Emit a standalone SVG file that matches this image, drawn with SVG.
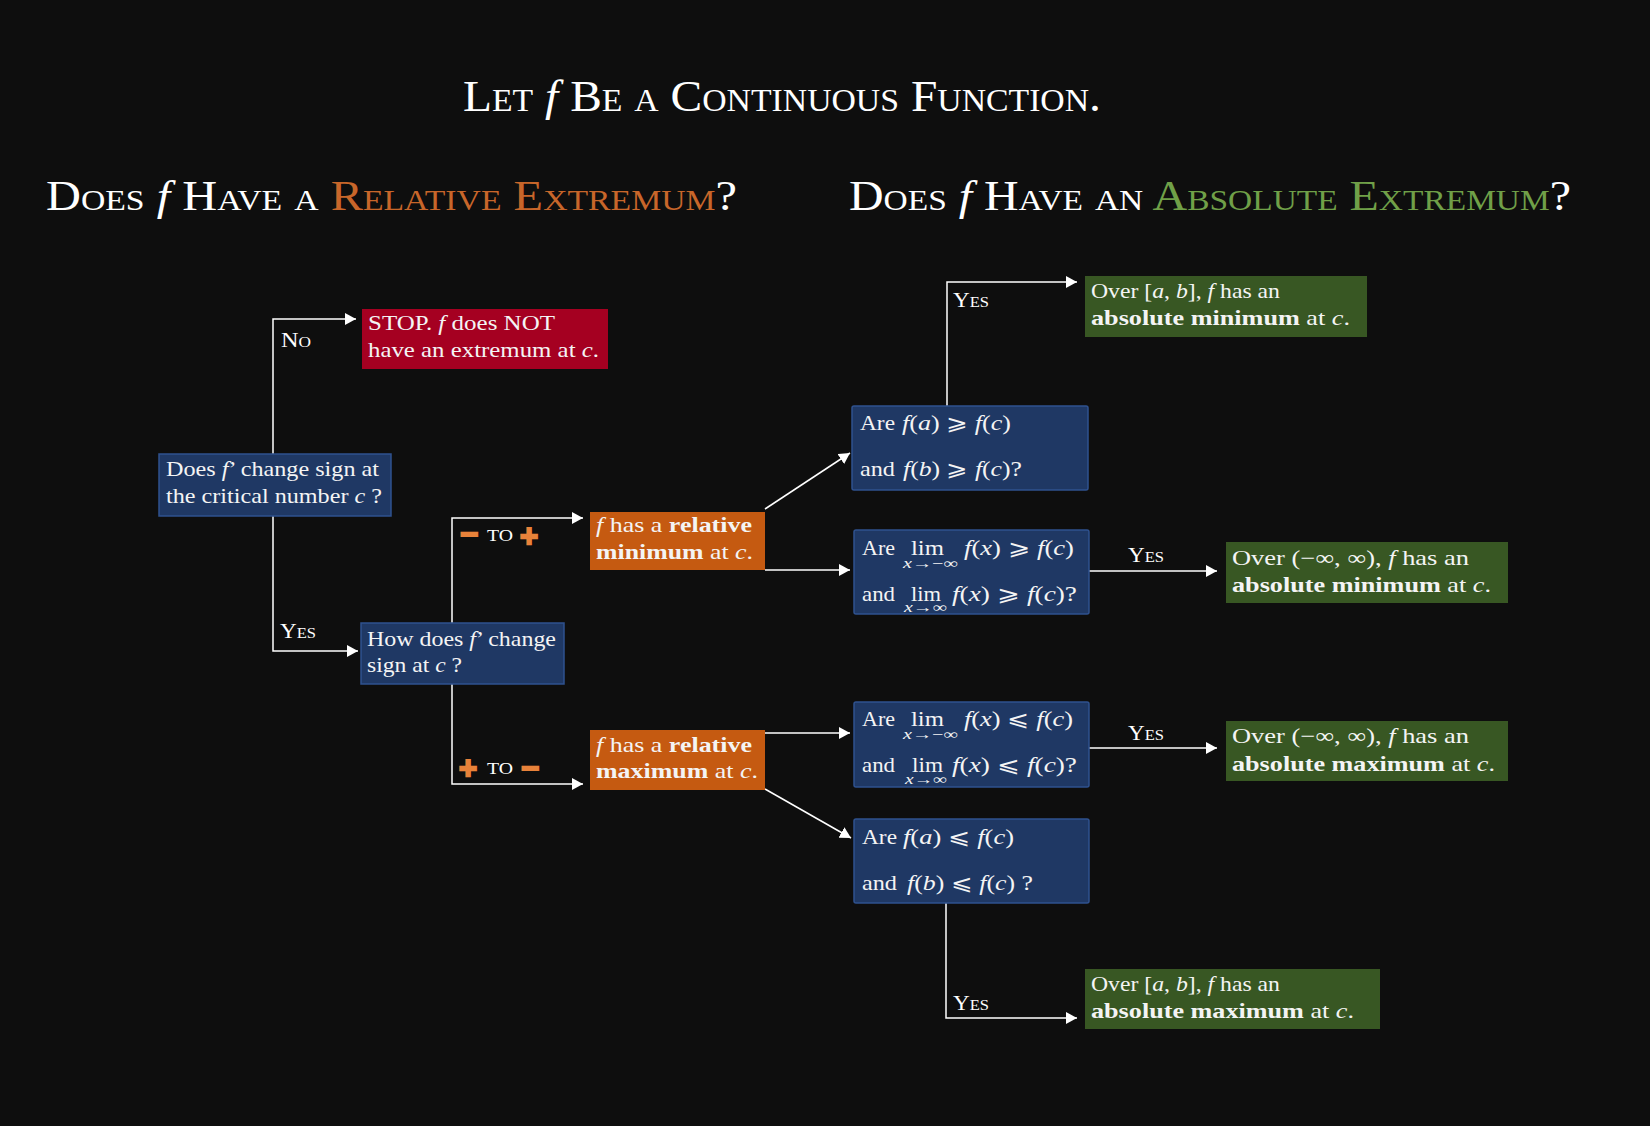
<svg xmlns="http://www.w3.org/2000/svg" width="1650" height="1126" viewBox="0 0 1650 1126">
<defs>
<style>
.t{font-family:"Liberation Serif","DejaVu Serif",serif;fill:#f4f4f4;font-size:21px}
.i{font-style:italic}
.b{font-weight:bold}
.h{font-family:"Liberation Serif","DejaVu Serif",serif;fill:#ffffff;font-variant:small-caps}
.lbl{font-family:"Liberation Serif","DejaVu Serif",serif;fill:#ffffff;font-size:21px;font-variant:small-caps}
.sub{font-size:14px}
.sym{font-family:"DejaVu Sans",sans-serif;font-weight:bold;font-size:24px;fill:#e8823a;stroke:#e8823a;stroke-width:2.6;text-anchor:middle}
.to{font-family:"Liberation Serif",serif;font-size:16px;fill:#ffffff}
.conn{stroke:#ffffff;stroke-width:1.5;fill:none}
.blue{fill:#1f3864;stroke:#2f528f;stroke-width:1.5}
.orange{fill:#c55a11}
.red{fill:#a50021}
.green{fill:#385723}
</style>
<marker id="ah" viewBox="0 0 11 12" refX="11" refY="6" markerWidth="11" markerHeight="12" markerUnits="userSpaceOnUse" orient="auto">
<path d="M0,0 L11,6 L0,12 z" fill="#ffffff"/>
</marker>
</defs>
<rect x="0" y="0" width="1650" height="1126" fill="#0e0e0e"/>

<g id="titles">
<text class="h" x="463" y="111" font-size="45" textLength="638" lengthAdjust="spacingAndGlyphs">Let <tspan class="i" font-variant="normal">f</tspan> Be a Continuous Function.</text>
<text class="h" x="46" y="210" font-size="43" textLength="691" lengthAdjust="spacingAndGlyphs">Does <tspan class="i" font-variant="normal">f</tspan> Have a <tspan fill="#c8662a">Relative Extremum</tspan>?</text>
<text class="h" x="849" y="210" font-size="43" textLength="722" lengthAdjust="spacingAndGlyphs">Does <tspan class="i" font-variant="normal">f</tspan> Have an <tspan fill="#70a048">Absolute Extremum</tspan>?</text>
</g>

<g id="connectors">
<polyline class="conn" points="273,454 273,319 356,319" marker-end="url(#ah)"/>
<polyline class="conn" points="273,516 273,651 358,651" marker-end="url(#ah)"/>
<polyline class="conn" points="452,623 452,518 583,518" marker-end="url(#ah)"/>
<polyline class="conn" points="452,684 452,784 583,784" marker-end="url(#ah)"/>
<line class="conn" x1="765" y1="509" x2="850" y2="453" marker-end="url(#ah)"/>
<line class="conn" x1="765" y1="570" x2="850" y2="570" marker-end="url(#ah)"/>
<line class="conn" x1="765" y1="733" x2="850" y2="733" marker-end="url(#ah)"/>
<line class="conn" x1="765" y1="789" x2="851" y2="838" marker-end="url(#ah)"/>
<polyline class="conn" points="947,406 947,282 1077,282" marker-end="url(#ah)"/>
<line class="conn" x1="1089" y1="571" x2="1217" y2="571" marker-end="url(#ah)"/>
<line class="conn" x1="1089" y1="748" x2="1217" y2="748" marker-end="url(#ah)"/>
<polyline class="conn" points="946,903 946,1018 1077,1018" marker-end="url(#ah)"/>
</g>

<g id="labels">
<text class="lbl" x="281" y="347" textLength="30" lengthAdjust="spacingAndGlyphs">No</text>
<text class="lbl" x="280" y="638" textLength="36" lengthAdjust="spacingAndGlyphs">Yes</text>
<text class="lbl" x="953" y="307" textLength="36" lengthAdjust="spacingAndGlyphs">Yes</text>
<text class="lbl" x="1128" y="562" textLength="36" lengthAdjust="spacingAndGlyphs">Yes</text>
<text class="lbl" x="1128" y="740" textLength="36" lengthAdjust="spacingAndGlyphs">Yes</text>
<text class="lbl" x="953" y="1010" textLength="36" lengthAdjust="spacingAndGlyphs">Yes</text>
<text class="sym" x="469" y="542">−</text>
<text class="to" x="487" y="541" textLength="26" lengthAdjust="spacingAndGlyphs">TO</text>
<text class="sym" x="529" y="544">+</text>
<text class="sym" x="468" y="776">+</text>
<text class="to" x="487" y="774" textLength="26" lengthAdjust="spacingAndGlyphs">TO</text>
<text class="sym" x="530" y="776">−</text>
</g>

<g id="n-stop">
<rect class="red" x="362" y="309" width="246" height="60"/>
<text class="t" x="368" y="330" textLength="187" lengthAdjust="spacingAndGlyphs">STOP. <tspan class="i">f</tspan> does NOT</text>
<text class="t" x="368" y="357" textLength="231" lengthAdjust="spacingAndGlyphs">have an extremum at <tspan class="i">c</tspan>.</text>
</g>

<g id="n-sign">
<rect class="blue" x="159" y="454" width="232" height="62"/>
<text class="t" x="166" y="476" textLength="213" lengthAdjust="spacingAndGlyphs">Does <tspan class="i">f</tspan>’ change sign at</text>
<text class="t" x="166" y="503" textLength="216" lengthAdjust="spacingAndGlyphs">the critical number <tspan class="i">c</tspan> ?</text>
</g>

<g id="n-how">
<rect class="blue" x="361" y="623" width="203" height="61"/>
<text class="t" x="367" y="646" textLength="189" lengthAdjust="spacingAndGlyphs">How does <tspan class="i">f</tspan>’ change</text>
<text class="t" x="367" y="672" textLength="95" lengthAdjust="spacingAndGlyphs">sign at <tspan class="i">c</tspan> ?</text>
</g>

<g id="n-relmin">
<rect class="orange" x="590" y="512" width="175" height="58"/>
<text class="t" x="596" y="532" textLength="156" lengthAdjust="spacingAndGlyphs"><tspan class="i">f</tspan> has a <tspan class="b">relative</tspan></text>
<text class="t" x="596" y="559" textLength="157" lengthAdjust="spacingAndGlyphs"><tspan class="b">minimum</tspan> at <tspan class="i">c</tspan>.</text>
</g>

<g id="n-relmax">
<rect class="orange" x="590" y="730" width="175" height="60"/>
<text class="t" x="596" y="752" textLength="156" lengthAdjust="spacingAndGlyphs"><tspan class="i">f</tspan> has a <tspan class="b">relative</tspan></text>
<text class="t" x="596" y="778" textLength="162" lengthAdjust="spacingAndGlyphs"><tspan class="b">maximum</tspan> at <tspan class="i">c</tspan>.</text>
</g>

<g id="n-q-ab-min">
<rect class="blue" x="852" y="406" width="236" height="84" rx="2"/>
<text class="t" x="860" y="430" textLength="35" lengthAdjust="spacingAndGlyphs">Are</text>
<text class="t" x="902" y="430" textLength="109" lengthAdjust="spacingAndGlyphs"><tspan class="i">f</tspan>(<tspan class="i">a</tspan>) ⩾ <tspan class="i">f</tspan>(<tspan class="i">c</tspan>)</text>
<text class="t" x="860" y="476" textLength="35" lengthAdjust="spacingAndGlyphs">and</text>
<text class="t" x="903" y="476" textLength="119" lengthAdjust="spacingAndGlyphs"><tspan class="i">f</tspan>(<tspan class="i">b</tspan>) ⩾ <tspan class="i">f</tspan>(<tspan class="i">c</tspan>)?</text>
</g>

<g id="n-q-lim-min">
<rect class="blue" x="854" y="530" width="235" height="84" rx="2"/>
<text class="t" x="862" y="555" textLength="33" lengthAdjust="spacingAndGlyphs">Are</text>
<text class="t" x="911" y="555" textLength="33" lengthAdjust="spacingAndGlyphs">lim</text>
<text class="t sub" x="903" y="568" textLength="55" lengthAdjust="spacingAndGlyphs"><tspan class="i">x</tspan>→−∞</text>
<text class="t" x="964" y="555" textLength="110" lengthAdjust="spacingAndGlyphs"><tspan class="i">f</tspan>(<tspan class="i">x</tspan>) ⩾ <tspan class="i">f</tspan>(<tspan class="i">c</tspan>)</text>
<text class="t" x="862" y="601" textLength="33" lengthAdjust="spacingAndGlyphs">and</text>
<text class="t" x="911" y="601" textLength="30" lengthAdjust="spacingAndGlyphs">lim</text>
<text class="t sub" x="904" y="612" textLength="43" lengthAdjust="spacingAndGlyphs"><tspan class="i">x</tspan>→∞</text>
<text class="t" x="952" y="601" textLength="125" lengthAdjust="spacingAndGlyphs"><tspan class="i">f</tspan>(<tspan class="i">x</tspan>) ⩾ <tspan class="i">f</tspan>(<tspan class="i">c</tspan>)?</text>
</g>

<g id="n-q-lim-max">
<rect class="blue" x="854" y="702" width="235" height="85" rx="2"/>
<text class="t" x="862" y="726" textLength="33" lengthAdjust="spacingAndGlyphs">Are</text>
<text class="t" x="911" y="726" textLength="33" lengthAdjust="spacingAndGlyphs">lim</text>
<text class="t sub" x="903" y="739" textLength="55" lengthAdjust="spacingAndGlyphs"><tspan class="i">x</tspan>→−∞</text>
<text class="t" x="964" y="726" textLength="109" lengthAdjust="spacingAndGlyphs"><tspan class="i">f</tspan>(<tspan class="i">x</tspan>) ⩽ <tspan class="i">f</tspan>(<tspan class="i">c</tspan>)</text>
<text class="t" x="862" y="772" textLength="33" lengthAdjust="spacingAndGlyphs">and</text>
<text class="t" x="912" y="772" textLength="31" lengthAdjust="spacingAndGlyphs">lim</text>
<text class="t sub" x="905" y="784" textLength="42" lengthAdjust="spacingAndGlyphs"><tspan class="i">x</tspan>→∞</text>
<text class="t" x="952" y="772" textLength="125" lengthAdjust="spacingAndGlyphs"><tspan class="i">f</tspan>(<tspan class="i">x</tspan>) ⩽ <tspan class="i">f</tspan>(<tspan class="i">c</tspan>)?</text>
</g>

<g id="n-q-ab-max">
<rect class="blue" x="854" y="819" width="235" height="84" rx="2"/>
<text class="t" x="862" y="844" textLength="35" lengthAdjust="spacingAndGlyphs">Are</text>
<text class="t" x="903" y="844" textLength="111" lengthAdjust="spacingAndGlyphs"><tspan class="i">f</tspan>(<tspan class="i">a</tspan>) ⩽ <tspan class="i">f</tspan>(<tspan class="i">c</tspan>)</text>
<text class="t" x="862" y="890" textLength="35" lengthAdjust="spacingAndGlyphs">and</text>
<text class="t" x="907" y="890" textLength="126" lengthAdjust="spacingAndGlyphs"><tspan class="i">f</tspan>(<tspan class="i">b</tspan>) ⩽ <tspan class="i">f</tspan>(<tspan class="i">c</tspan>) ?</text>
</g>

<g id="n-abs-min-ab">
<rect class="green" x="1085" y="276" width="282" height="61"/>
<text class="t" x="1091" y="298" textLength="189" lengthAdjust="spacingAndGlyphs">Over [<tspan class="i">a</tspan>, <tspan class="i">b</tspan>], <tspan class="i">f</tspan> has an</text>
<text class="t" x="1091" y="325" textLength="259" lengthAdjust="spacingAndGlyphs"><tspan class="b">absolute minimum</tspan> at <tspan class="i">c</tspan>.</text>
</g>

<g id="n-abs-min-inf">
<rect class="green" x="1226" y="542" width="282" height="61"/>
<text class="t" x="1232" y="565" textLength="237" lengthAdjust="spacingAndGlyphs">Over (−∞, ∞), <tspan class="i">f</tspan> has an</text>
<text class="t" x="1232" y="592" textLength="259" lengthAdjust="spacingAndGlyphs"><tspan class="b">absolute minimum</tspan> at <tspan class="i">c</tspan>.</text>
</g>

<g id="n-abs-max-inf">
<rect class="green" x="1226" y="721" width="282" height="60"/>
<text class="t" x="1232" y="743" textLength="237" lengthAdjust="spacingAndGlyphs">Over (−∞, ∞), <tspan class="i">f</tspan> has an</text>
<text class="t" x="1232" y="771" textLength="263" lengthAdjust="spacingAndGlyphs"><tspan class="b">absolute maximum</tspan> at <tspan class="i">c</tspan>.</text>
</g>

<g id="n-abs-max-ab">
<rect class="green" x="1085" y="969" width="295" height="60"/>
<text class="t" x="1091" y="991" textLength="189" lengthAdjust="spacingAndGlyphs">Over [<tspan class="i">a</tspan>, <tspan class="i">b</tspan>], <tspan class="i">f</tspan> has an</text>
<text class="t" x="1091" y="1018" textLength="263" lengthAdjust="spacingAndGlyphs"><tspan class="b">absolute maximum</tspan> at <tspan class="i">c</tspan>.</text>
</g>
</svg>
